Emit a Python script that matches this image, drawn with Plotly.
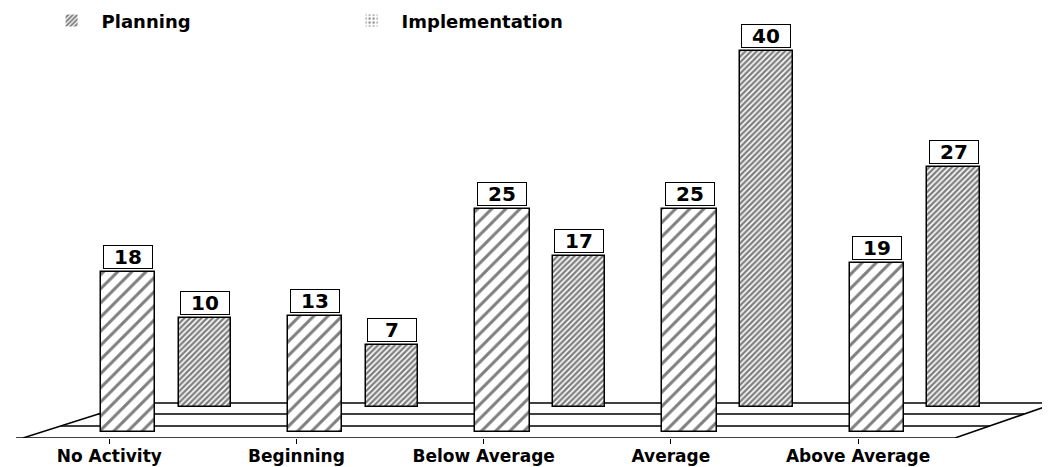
import plotly.graph_objects as go

# ---- data ----
categories = ["No Activity", "Beginning", "Below Average", "Average", "Above Average"]
implementation = [18, 13, 25, 25, 19]   # front row
planning = [10, 7, 17, 40, 27]          # back row

# ---- layout constants ----
BACK_OFFSET = 0.41
FRONT_BASE = -2.8
BAR_W = 0.29
FONT = "DejaVu Sans"

idx = list(range(len(categories)))
front_x = [i for i in idx]
back_x = [i + BACK_OFFSET for i in idx]

fig = go.Figure()

# legend-only entries (match the reference legend swatches)
fig.add_trace(go.Bar(x=[None], y=[None], name="<b>Planning</b>",
                     marker=dict(color="white", line=dict(width=0),
                                 pattern=dict(shape="/", fgcolor="black", bgcolor="white",
                                              size=4, solidity=0.6))))
fig.add_trace(go.Bar(x=[None], y=[None], name="<b>Implementation</b>",
                     marker=dict(color="white", line=dict(width=0),
                                 pattern=dict(shape=".", fgcolor="black", bgcolor="white",
                                              size=5, solidity=0.25))))

# back row (Planning)
fig.add_trace(go.Bar(x=back_x, y=planning, base=0, width=BAR_W - 0.01, showlegend=False,
                     marker=dict(color="white", line=dict(color="black", width=1.5),
                                 pattern=dict(shape="/", fgcolor="black", bgcolor="white",
                                              size=4, solidity=0.6))))
# front row (Implementation)
fig.add_trace(go.Bar(x=front_x, y=implementation, base=FRONT_BASE, width=BAR_W, showlegend=False,
                     marker=dict(color="white", line=dict(color="black", width=1.5),
                                 pattern=dict(shape="/", fgcolor="black", bgcolor="white",
                                              size=10, solidity=0.3))))

# value boxes
annotations = []
for xs, vals, base in ((back_x, planning, 0), (front_x, implementation, FRONT_BASE)):
    for x, v in zip(xs, vals):
        annotations.append(dict(x=x, y=base + v, xref="x", yref="y", text=f"<b>{v}</b>",
                                showarrow=False, yanchor="bottom", yshift=3,
                                bgcolor="white", bordercolor="black", borderwidth=1,
                                borderpad=0, width=48, height=22,
                                font=dict(family=FONT, size=20, color="black")))

# floor slab (decoration)
Y_TOP, Y_BOT = 0.45, -3.48
LEFT_TOP, LEFT_BOT = 0.027, -0.561
RIGHT_TOP, RIGHT_BOT = 4.957, 4.418

def left_x(y):
    return LEFT_BOT + (y - Y_BOT) / (Y_TOP - Y_BOT) * (LEFT_TOP - LEFT_BOT)

def right_x(y):
    return RIGHT_BOT + (y - Y_BOT) / (Y_TOP - Y_BOT) * (RIGHT_TOP - RIGHT_BOT)

shapes = []
line_style = dict(color="black", width=1.5)
for y in (Y_TOP, -0.79, -2.13):
    shapes.append(dict(type="line", xref="x", yref="y", x0=left_x(y), x1=right_x(y),
                       y0=y, y1=y, line=line_style, layer="below"))
shapes.append(dict(type="line", xref="x", yref="y", x0=-0.598, x1=RIGHT_BOT,
                   y0=Y_BOT, y1=Y_BOT, line=line_style, layer="below"))
shapes.append(dict(type="line", xref="x", yref="y", x0=LEFT_BOT, x1=LEFT_TOP,
                   y0=Y_BOT, y1=Y_TOP, line=line_style, layer="below"))
shapes.append(dict(type="line", xref="x", yref="y", x0=RIGHT_BOT, x1=RIGHT_TOP,
                   y0=Y_BOT, y1=Y_TOP, line=line_style, layer="below"))

fig.update_layout(
    width=1050, height=467,
    margin=dict(l=0, r=0, t=34, b=37, autoexpand=False),
    paper_bgcolor="white", plot_bgcolor="white",
    barmode="overlay", bargap=0,
    font=dict(family=FONT, color="black"),
    xaxis=dict(range=[-0.641, 4.968], showgrid=False, zeroline=False, showline=False,
               automargin=False,
               tickmode="array", tickvals=[i - 0.1 for i in idx],
               ticktext=[f"<b>{c}</b>" for c in categories],
               ticks="outside", ticklen=5, tickwidth=1, tickcolor="black",
               ticklabelstandoff=-2,
               tickfont=dict(family=FONT, size=17, color="black")),
    yaxis=dict(range=[Y_BOT, 41.0], visible=False, automargin=False),
    legend=dict(orientation="h", x=0.032, y=1.1, xanchor="left", yanchor="top",
                entrywidth=235, itemwidth=50, bgcolor="rgba(0,0,0,0)",
                font=dict(family=FONT, size=18, color="black")),
    annotations=annotations,
    shapes=shapes,
)

fig.write_html("out.html")
